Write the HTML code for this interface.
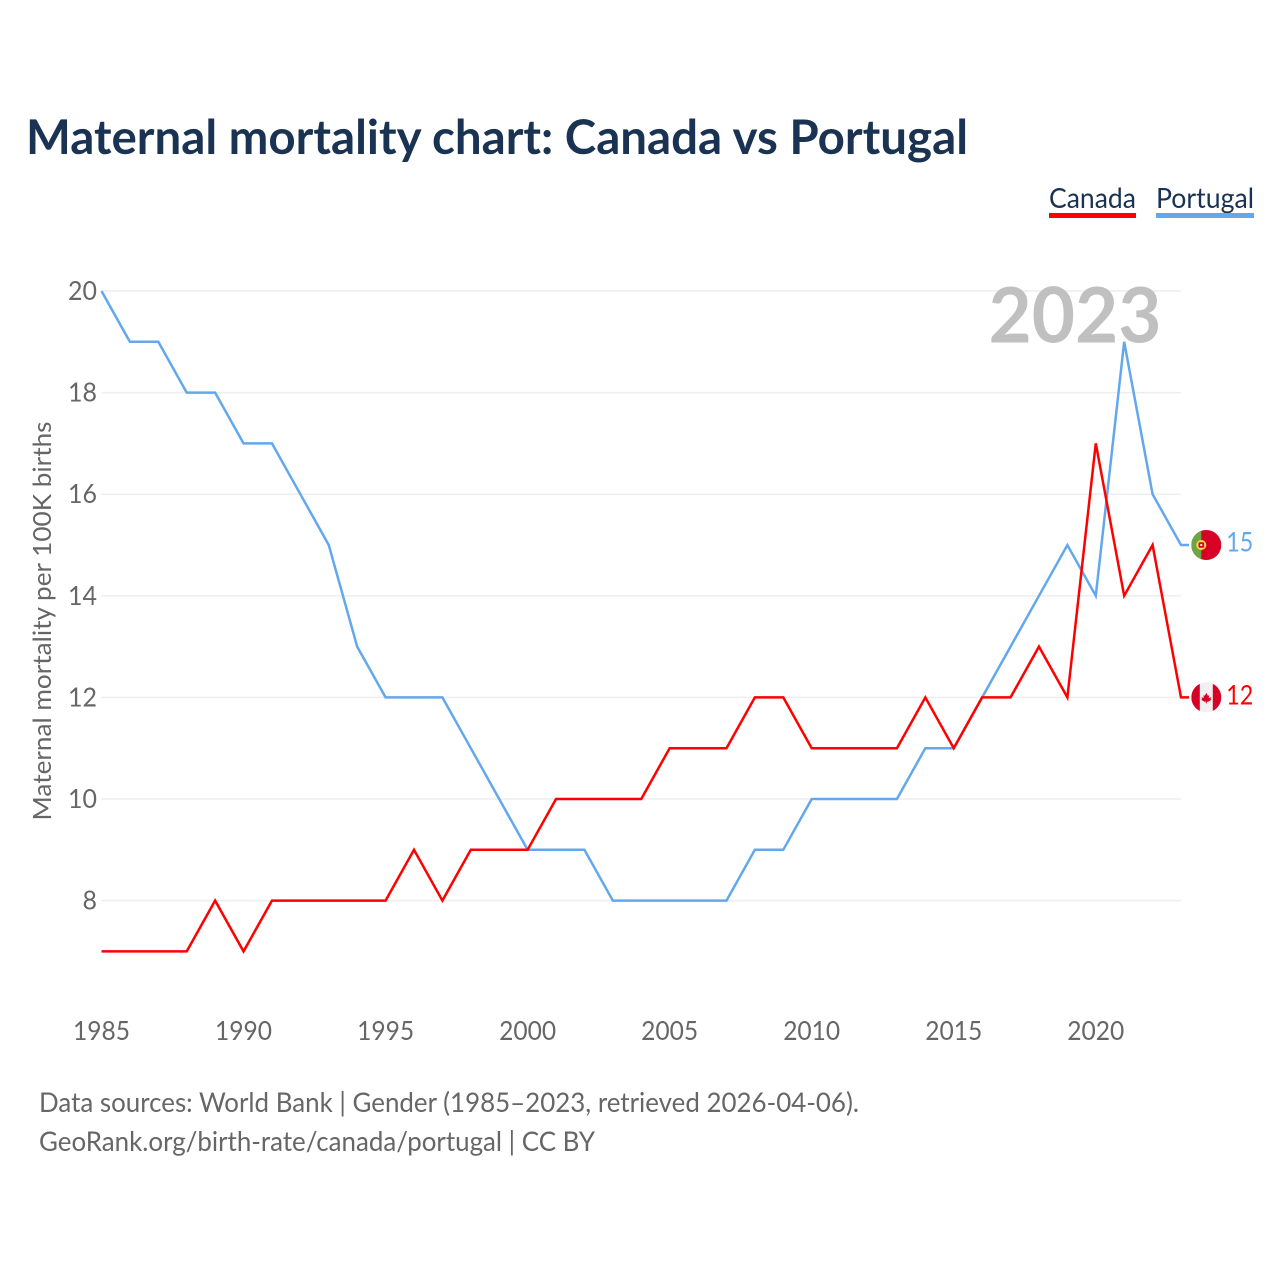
<!DOCTYPE html>
<html><head><meta charset="utf-8"><style>
html,body{margin:0;padding:0;background:#fff}
svg{display:block}
text{font-family:"Lato","Carlito","Liberation Sans",sans-serif}
</style></head><body>
<svg id="chart" width="1280" height="1280" viewBox="0 0 1280 1280" xmlns="http://www.w3.org/2000/svg">
<rect width="1280" height="1280" fill="#fff"/>
<text x="26" y="154" font-size="48" font-weight="700" fill="#1a3353" textLength="942" lengthAdjust="spacingAndGlyphs">Maternal mortality chart: Canada vs Portugal</text>
<g id="grid"></g>
<text x="1075" y="342.5" font-size="77" font-weight="700" fill="#c0c0c0" text-anchor="middle" textLength="173" lengthAdjust="spacingAndGlyphs">2023</text>
<g id="yticks"></g>
<g id="xticks"></g>
<text transform="translate(51,621) rotate(-90)" font-size="25" fill="#666" text-anchor="middle" textLength="399" lengthAdjust="spacingAndGlyphs">Maternal mortality per 100K births</text>
<path id="line-portugal" fill="none" stroke="#63a8ec" stroke-width="2.5" stroke-linejoin="miter"/>
<path id="line-canada" fill="none" stroke="#ff0000" stroke-width="2.5" stroke-linejoin="miter"/>
<g id="end-portugal">
  <g>
    <clipPath id="clip-pt"><circle cx="0" cy="0" r="15"/></clipPath>
    <g clip-path="url(#clip-pt)">
      <rect x="-15" y="-15" width="30" height="30" fill="#d80027"/>
      <rect x="-15" y="-15" width="10" height="30" fill="#6da544"/>
      <circle cx="-5" cy="0" r="5" fill="#ffda44"/>
      <rect x="-7.8" y="-2.8" width="5.6" height="5.6" rx="1" fill="#d80027"/>
      <rect x="-6" y="-1" width="2" height="2" fill="#f0f0f0"/>
    </g>
  </g>
  <text id="value-portugal" x="20" y="6.5" font-size="27" fill="#63a8ec" textLength="27" lengthAdjust="spacingAndGlyphs">15</text>
</g>
<g id="end-canada">
  <g>
    <clipPath id="clip-ca"><circle cx="0" cy="0" r="15"/></clipPath>
    <g clip-path="url(#clip-ca)">
      <rect x="-15" y="-15" width="30" height="30" fill="#f0f0f0"/>
      <rect x="-15" y="-15" width="8.5" height="30" fill="#d80027"/>
      <rect x="6.5" y="-15" width="8.5" height="30" fill="#d80027"/>
      <polygon points="0,-4.5 1.6,-1.6 3,-2.2 2.4,0.6 4.8,-0.2 4.2,1.8 5.2,2.4 1.8,4.4 0.5,4.2 0.5,6 -0.5,6 -0.5,4.2 -1.8,4.4 -5.2,2.4 -4.2,1.8 -4.8,-0.2 -2.4,0.6 -3,-2.2 -1.6,-1.6" fill="#d80027"/>
    </g>
  </g>
  <text id="value-canada" x="20" y="7" font-size="27" fill="#ff0000" textLength="27" lengthAdjust="spacingAndGlyphs">12</text>
</g>
<g>
  <g>
    <text x="1049" y="208" font-size="28" fill="#1a3353" textLength="87" lengthAdjust="spacingAndGlyphs">Canada</text>
    <rect x="1049" y="213" width="87" height="5" fill="#ff0000"/>
  </g>
  <g>
    <text x="1156" y="208" font-size="28" fill="#1a3353" textLength="98" lengthAdjust="spacingAndGlyphs">Portugal</text>
    <rect x="1156" y="213" width="98" height="5" fill="#63a8ec"/>
  </g>
</g>
<text x="39" y="1112" font-size="27" fill="#666" textLength="820" lengthAdjust="spacingAndGlyphs">Data sources: World Bank | Gender (1985–2023, retrieved 2026-04-06).</text>
<text x="39" y="1151" font-size="27" fill="#666" textLength="556" lengthAdjust="spacingAndGlyphs">GeoRank.org/birth-rate/canada/portugal | CC BY</text>
</svg>
<script>
const years = [1985,1986,1987,1988,1989,1990,1991,1992,1993,1994,1995,1996,1997,1998,1999,2000,2001,2002,2003,2004,2005,2006,2007,2008,2009,2010,2011,2012,2013,2014,2015,2016,2017,2018,2019,2020,2021,2022,2023];
const canadaValues = [7,7,7,7,8,7,8,8,8,8,8,9,8,9,9,9,10,10,10,10,11,11,11,12,12,11,11,11,11,12,11,12,12,13,12,17,14,15,12];
const portugalValues = [20,19,19,18,18,17,17,16,15,13,12,12,12,11,10,9,9,9,8,8,8,8,8,9,9,10,10,10,10,11,11,12,13,14,15,14,19,16,15];
const yTickValues = [8,10,12,14,16,18,20];
const xTickValues = [1985,1990,1995,2000,2005,2010,2015,2020];

const NS = 'http://www.w3.org/2000/svg';
const xScale = function (year) { return 101.5 + (year - 1985) * (1181 - 101.5) / 38; };
const yScale = function (value) { return 900.6 - (value - 8) * (900.6 - 291) / 12; };

const grid = document.getElementById('grid');
const yticks = document.getElementById('yticks');
yTickValues.forEach(function (v) {
  const line = document.createElementNS(NS, 'line');
  
  
  line.setAttribute('x1', xScale(1985));
  line.setAttribute('x2', xScale(2023));
  line.setAttribute('y1', yScale(v));
  line.setAttribute('y2', yScale(v));
  line.setAttribute('stroke', '#eeeeee');
  line.setAttribute('stroke-width', '1.5');
  grid.appendChild(line);
  const t = document.createElementNS(NS, 'text');
  
  
  t.setAttribute('x', 97);
  t.setAttribute('y', yScale(v) + 9);
  t.setAttribute('font-size', '26');
  t.setAttribute('fill', '#666');
  t.setAttribute('text-anchor', 'end');
  t.setAttribute('textLength', String(v).length * 14.5);
  t.setAttribute('lengthAdjust', 'spacingAndGlyphs');
  t.textContent = v;
  yticks.appendChild(t);
});

const xticks = document.getElementById('xticks');
xTickValues.forEach(function (y) {
  const t = document.createElementNS(NS, 'text');
  
  
  t.setAttribute('x', xScale(y));
  t.setAttribute('y', 1040);
  t.setAttribute('font-size', '26');
  t.setAttribute('fill', '#666');
  t.setAttribute('text-anchor', 'middle');
  t.setAttribute('textLength', 57);
  t.setAttribute('lengthAdjust', 'spacingAndGlyphs');
  t.textContent = y;
  xticks.appendChild(t);
});

function buildPath(values) {
  let d = values.map(function (v, i) {
    return (i ? 'L' : 'M') + xScale(years[i]).toFixed(2) + ' ' + yScale(v).toFixed(2);
  }).join(' ');
  d += ' L' + (xScale(years[years.length - 1]) + 8).toFixed(2) + ' ' + yScale(values[values.length - 1]).toFixed(2);
  return d;
}
document.getElementById('line-canada').setAttribute('d', buildPath(canadaValues));
document.getElementById('line-portugal').setAttribute('d', buildPath(portugalValues));

const lastCanada = canadaValues[canadaValues.length - 1];
const lastPortugal = portugalValues[portugalValues.length - 1];
document.getElementById('end-canada').setAttribute('transform', 'translate(1206.3,' + yScale(lastCanada) + ')');
document.getElementById('end-portugal').setAttribute('transform', 'translate(1206.3,' + yScale(lastPortugal) + ')');
document.getElementById('value-canada').textContent = lastCanada;
document.getElementById('value-portugal').textContent = lastPortugal;
</script>
</body></html>
